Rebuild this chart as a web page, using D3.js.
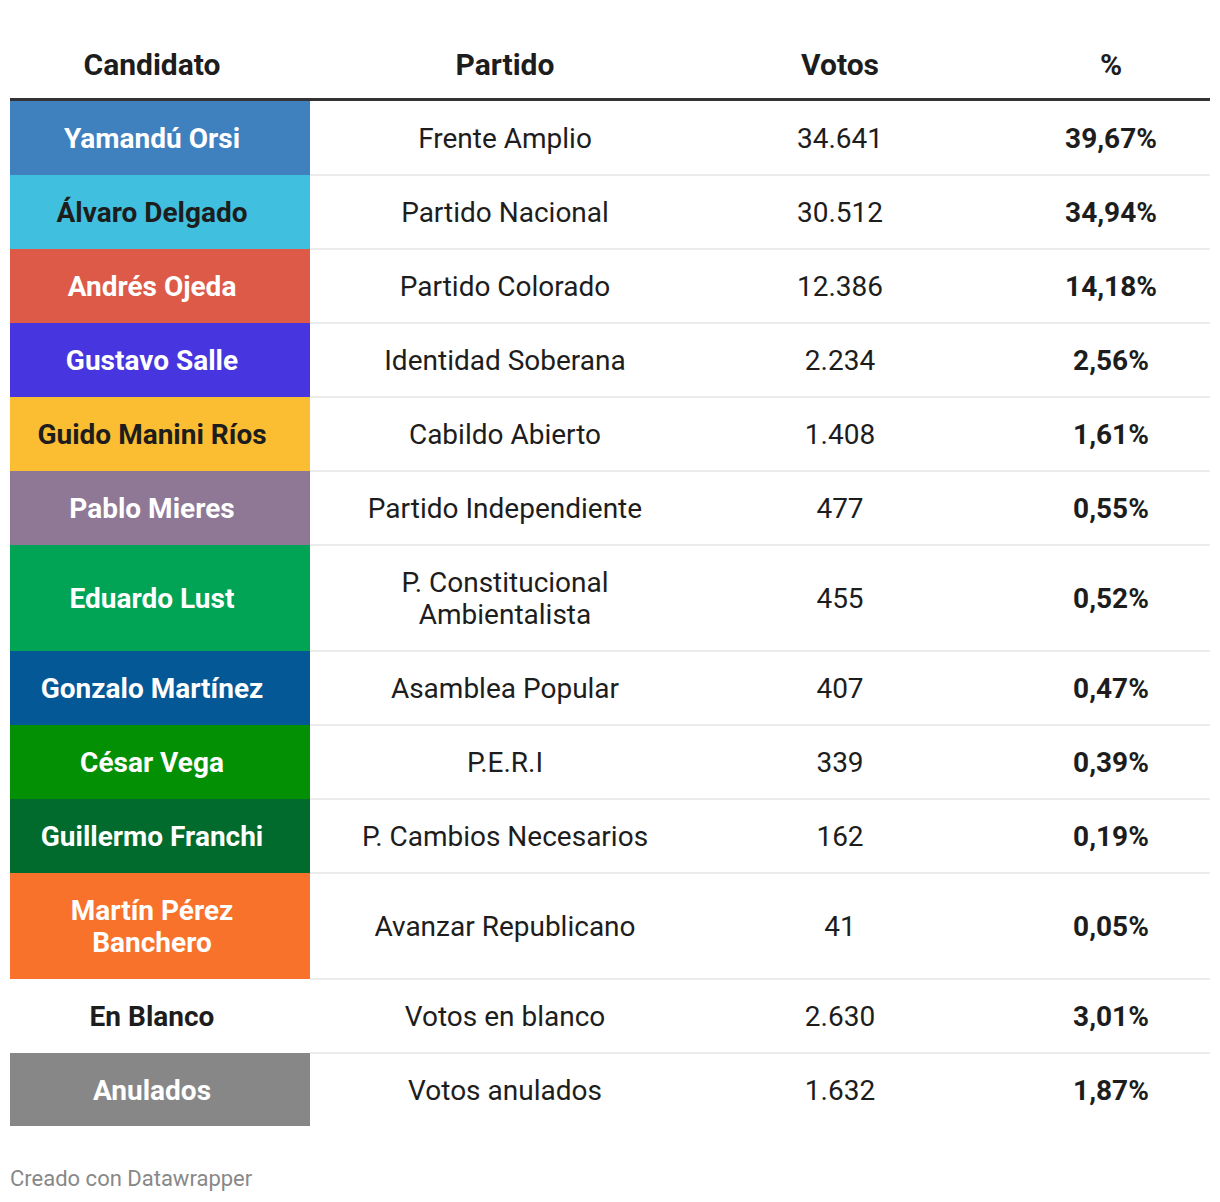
<!DOCTYPE html>
<html>
<head>
<meta charset="utf-8">
<script src="https://cdn.jsdelivr.net/npm/d3@7"></script>
<style>
  body { margin: 0; background: #fff; font-family: Roboto, sans-serif; }
</style>
</head>
<body>
<div id="chart"></div>
<script>
const headers = ['Candidato', 'Partido', 'Votos', '%'];
const candidatos = ['Yamandú Orsi', 'Álvaro Delgado', 'Andrés Ojeda', 'Gustavo Salle', 'Guido Manini Ríos',
  'Pablo Mieres', 'Eduardo Lust', 'Gonzalo Martínez', 'César Vega', 'Guillermo Franchi',
  'Martín Pérez\nBanchero', 'En Blanco', 'Anulados'];
const partidos = ['Frente Amplio', 'Partido Nacional', 'Partido Colorado', 'Identidad Soberana', 'Cabildo Abierto',
  'Partido Independiente', 'P. Constitucional\nAmbientalista', 'Asamblea Popular', 'P.E.R.I',
  'P. Cambios Necesarios', 'Avanzar Republicano', 'Votos en blanco', 'Votos anulados'];
const votos = ['34.641', '30.512', '12.386', '2.234', '1.408', '477', '455', '407', '339', '162', '41', '2.630', '1.632'];
const porcentajes = ['39,67%', '34,94%', '14,18%', '2,56%', '1,61%', '0,55%', '0,52%', '0,47%', '0,39%', '0,19%', '0,05%', '3,01%', '1,87%'];
const colores = ['#3f80bf', '#40c0de', '#dc5a47', '#4736e0', '#fbbd31', '#8e7896', '#00a454',
  '#055896', '#049004', '#006b2d', '#f9722b', '#ffffff', '#878787'];
const textoOscuro = ['Álvaro Delgado', 'Guido Manini Ríos', 'En Blanco'];

const width = 1220;
const height = 1202;
const left = 10;
const right = 1210;
const headerY = 64;
const tableTop = 101;
const lineH = 32;

const rows = candidatos.map((c, i) => ({
  candidato: c,
  partido: partidos[i],
  votos: votos[i],
  pct: porcentajes[i],
  lines: Math.max(c.split('\n').length, partidos[i].split('\n').length)
}));

let acc = tableTop;
rows.forEach(r => {
  r.h = r.lines > 1 ? 106 : 74;
  r.y = acc;
  acc += r.h;
});

const color = d3.scaleOrdinal(candidatos, colores);

const colX = d3.scaleOrdinal()
  .domain(headers)
  .range([152, 505, 840, 1111]);

const svg = d3.select('#chart')
  .append('svg')
  .attr('width', width)
  .attr('height', height);

svg.selectAll('.head')
  .data(headers)
  .enter()
  .append('text')
  .attr('class', 'head')
  .attr('x', d => colX(d))
  .attr('y', headerY)
  .attr('dy', '0.35em')
  .attr('text-anchor', 'middle')
  .style('font-size', '30px')
  .style('font-weight', 700)
  .style('fill', '#1d1d1d')
  .text(d => d);

const row = svg.selectAll('.row')
  .data(rows)
  .enter()
  .append('g')
  .attr('class', 'row')
  .attr('transform', d => `translate(0, ${d.y})`);

// separators
row.filter((d, i) => i < rows.length - 1)
  .append('rect')
  .attr('x', left)
  .attr('y', d => d.h - 1)
  .attr('width', right - left)
  .attr('height', 2)
  .attr('fill', '#ececec');

row.append('rect')
  .attr('x', left)
  .attr('y', 0)
  .attr('width', 300)
  .attr('height', (d, i) => i < rows.length - 1 ? d.h : d.h - 1)
  .attr('fill', d => color(d.candidato));

function multiline(sel, key, col, opts) {
  sel.append('text')
    .attr('text-anchor', 'middle')
    .style('font-size', '28px')
    .style('font-weight', opts.bold ? 700 : 400)
    .style('fill', d => opts.fill ? opts.fill(d) : '#1d1d1d')
    .each(function(d) {
      const parts = d[key].split('\n');
      const t = d3.select(this);
      parts.forEach((p, j) => {
        t.append('tspan')
          .attr('x', colX(col))
          .attr('y', d.h / 2 + (j - (parts.length - 1) / 2) * lineH)
          .attr('dy', '0.35em')
          .text(p);
      });
    });
}

multiline(row, 'candidato', 'Candidato', {
  bold: true,
  fill: d => textoOscuro.includes(d.candidato) ? '#1d1d1d' : '#ffffff'
});
multiline(row, 'partido', 'Partido', {});
multiline(row, 'votos', 'Votos', {});
multiline(row, 'pct', '%', { bold: true });

// header rule
svg.append('rect')
  .attr('x', left)
  .attr('y', tableTop - 3)
  .attr('width', right - left)
  .attr('height', 3)
  .attr('fill', '#333333');

svg.append('text')
  .attr('x', left)
  .attr('y', 1178)
  .attr('dy', '0.35em')
  .style('font-size', '22px')
  .style('fill', '#888888')
  .text('Creado con Datawrapper');
</script>
</body>
</html>
